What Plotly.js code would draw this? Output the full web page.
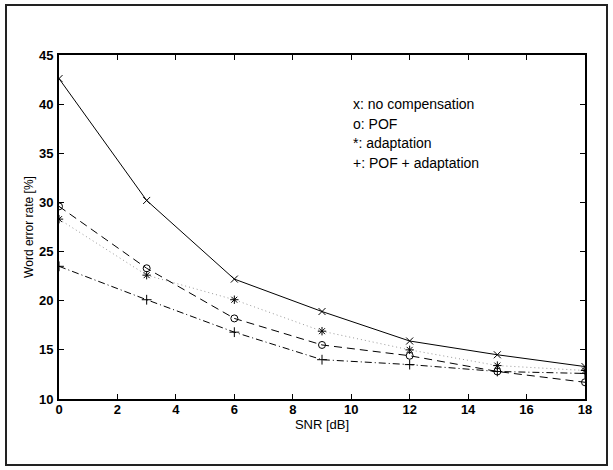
<!DOCTYPE html>
<html>
<head>
<meta charset="utf-8">
<script src="https://cdn.plot.ly/plotly-3.0.1.min.js"></script>
<style>html,body{margin:0;padding:0;background:#fff;}#chart{width:613px;height:470px;}</style>
</head>
<body>
<div id="chart"></div>
<script>
// SNR values [dB]
var snr = [0, 3, 6, 9, 12, 15, 18];
// Word error rate [%] per method
var noCompensation = [42.6, 30.2, 22.2, 18.9, 15.9, 14.5, 13.3];
var pof = [29.6, 23.3, 18.2, 15.5, 14.4, 12.8, 11.7];
var adaptation = [28.3, 22.6, 20.1, 16.9, 15.0, 13.4, 12.9];
var pofAdaptation = [23.5, 20.1, 16.8, 14.0, 13.5, 12.8, 12.6];
// legend texts drawn inside the plot
var legendTexts = ["x: no compensation", "o: POF", "*: adaptation", "+: POF + adaptation"];
var legendY = [40, 38, 36, 34];
var legendX = 10;

var font = "Liberation Sans, Arial, Helvetica, sans-serif";

function tr(y, dash, color, symbol) {
  return {
    x: snr, y: y, type: "scatter", mode: "lines+markers",
    line: {color: color, width: 1, dash: dash},
    marker: {symbol: symbol, size: 7, color: "black", line: {color: "black", width: 1}},
    showlegend: false, hoverinfo: "skip"
  };
}

var data = [
  tr(noCompensation, "solid", "black", "x-thin-open"),
  tr(adaptation, "1px,3px", "#999999", "asterisk-open"),
  tr(pof, "8px,5px", "black", "circle-open"),
  tr(pofAdaptation, "7px,3px,1px,3px", "black", "cross-thin-open")
];

var annotations = legendTexts.map(function (t, i) {
  return {
    x: legendX, y: legendY[i], xref: "x", yref: "y", text: t,
    showarrow: false, xanchor: "left", yanchor: "middle",
    font: {family: font, size: 14, color: "black"}
  };
});

var axisCommon = {
  showgrid: false, zeroline: false, showline: true, linecolor: "black", linewidth: 2,
  mirror: "ticks", ticks: "inside", ticklen: 5, tickwidth: 1, tickcolor: "black",
  tickfont: {family: font, size: 13, color: "black", weight: "bold"}
};

var layout = {
  width: 613, height: 470,
  margin: {l: 59, r: 28, t: 55, b: 71},
  paper_bgcolor: "white", plot_bgcolor: "white",
  xaxis: Object.assign({}, axisCommon, {
    range: [0, 18], tick0: 0, dtick: 2,
    ticklabelstandoff: -3,
    title: {text: "SNR [dB]", font: {family: font, size: 13, color: "black"}, standoff: 0}
  }),
  yaxis: Object.assign({}, axisCommon, {
    range: [10, 45], tick0: 10, dtick: 5,
    ticklabelstandoff: 1,
    title: {text: "Word error rate [%]", font: {family: font, size: 12, color: "black"}, standoff: 3}
  }),
  annotations: annotations,
  shapes: [{
    type: "rect", xref: "paper", yref: "paper",
    x0: (6 - 59) / 526, x1: (607 - 59) / 526,
    y0: (399 - 465) / 344, y1: (399 - 5) / 344,
    line: {color: "#222222", width: 2}, fillcolor: "rgba(0,0,0,0)", layer: "below"
  }]
};

Plotly.newPlot("chart", data, layout, {staticPlot: true, displayModeBar: false});
</script>
</body>
</html>
